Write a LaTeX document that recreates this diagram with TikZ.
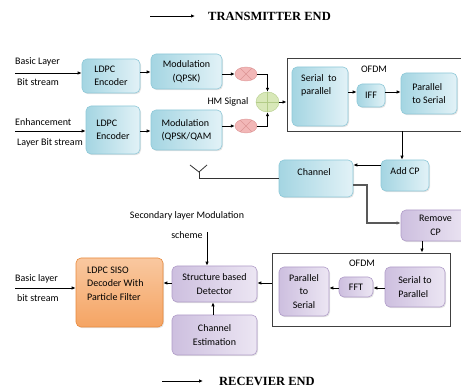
\documentclass[tikz,border=0pt]{standalone}
\usepackage{fontspec}
\setmainfont{Carlito}
\newfontfamily\titlefont{Liberation Serif}
\usetikzlibrary{arrows.meta,shapes.geometric,shadows}
\definecolor{blueL}{HTML}{A4D5E2}
\definecolor{blueR}{HTML}{E2F2F7}
\definecolor{blueD}{HTML}{8EC8D8}
\definecolor{purL}{HTML}{CDBFDF}
\definecolor{purR}{HTML}{ECE6F3}
\definecolor{purD}{HTML}{B09CC8}
\definecolor{orT}{HTML}{F9C8A0}
\definecolor{orM}{HTML}{F29447}
\definecolor{orB}{HTML}{F5A463}
\definecolor{orD}{HTML}{E8893B}
\definecolor{mulF}{HTML}{F2B7B7}
\definecolor{mulD}{HTML}{DD9595}
\definecolor{sumF}{HTML}{D8E8B8}
\definecolor{sumD}{HTML}{B3CC88}
\begin{document}
\begin{tikzpicture}[x=1pt,y=-1pt,
  every node/.style={font=\fontsize{10}{13.5}\selectfont, inner sep=0pt},
  box/.style={rounded corners=5pt, line width=0.6pt, drop shadow={shadow xshift=1pt,shadow yshift=-1.2pt,opacity=0.22}},
  bluebox/.style={box, draw=blueD, left color=blueL, right color=blueR},
  purbox/.style={box, draw=purD, left color=purL, right color=purR},
  orbox/.style={box, draw=orD, top color=orT, middle color=orM, bottom color=orB},
  frame/.style={draw=black!75, line width=0.9pt},
  mulnode/.style={ellipse, draw=mulD, fill=mulF, minimum width=22pt, minimum height=14pt},
  sumnode/.style={ellipse, draw=sumD, fill=sumF, minimum width=23pt, minimum height=20pt},
  arr/.style={-{Latex[length=4pt,width=3.5pt]}, line width=0.8pt},
  ttl/.style={font=\titlefont\bfseries\fontsize{12.5}{14}\selectfont, anchor=west},
  lbl/.style={anchor=west, align=left},
]
\useasboundingbox (0,0) rectangle (461,387);

% titles
\coordinate (t1a) at (150,16); \coordinate (t1b) at (195,16);
\draw[arr] (t1a) -- (t1b);
\node[ttl] (ttx) at (208,16) {TRANSMITTER END};
\coordinate (t2a) at (162,381); \coordinate (t2b) at (203,381);
\draw[arr] (t2a) -- (t2b);
\node[ttl] (trx) at (219,381) {RECEVIER END};

% transmitter, row 1
\node[lbl] (bl1) at (15,62) {Basic Layer};
\node[lbl] (bl2) at (17,82) {Bit stream};
\node[bluebox, minimum width=58pt, minimum height=34pt, align=left] (enc1) at (111,76) {LDPC\\Encoder};
\node[bluebox, minimum width=71pt, minimum height=35pt, align=center] (mod1) at (186.5,71.5) {Modulation\\(QPSK)};
\node[mulnode] (mul1) at (246,74) {};
\draw[mulD, line width=0.6pt] (mul1.45) -- (mul1.225) (mul1.135) -- (mul1.315);

% transmitter, row 2
\node[lbl] (el1) at (15,122) {Enhancement};
\node[lbl] (el2) at (17,143) {Layer Bit stream};
\node[bluebox, minimum width=54pt, minimum height=48pt, align=left] (enc2) at (113,130) {LDPC\\Encoder};
\node[bluebox, minimum width=71pt, minimum height=40pt, align=left] (mod2) at (186.5,130) {Modulation\\(QPSK/QAM};
\node[mulnode] (mul2) at (246,126) {};
\draw[mulD, line width=0.6pt] (mul2.45) -- (mul2.225) (mul2.135) -- (mul2.315);

% sum
\node[sumnode] (sum) at (267.5,102) {};
\draw[sumD, line width=0.6pt] (sum.north) -- (sum.south) (sum.west) -- (sum.east);
\node (hm) at (228,102) {HM Signal};

% TX OFDM
\node[frame, minimum width=183pt, minimum height=73pt] (ofdm1) at (378.5,94.5) {};
\node (ofdm1t) at (374,69) {OFDM};
\node[bluebox, minimum width=56pt, minimum height=59pt] (s2p1) at (320,96.5) {};
\node[lbl] (s2p1t) at (301,85.5) {Serial\ \ to\\parallel};
\node[bluebox, minimum width=28pt, minimum height=23pt] (iff) at (371,95.5) {IFF};
\node[bluebox, minimum width=56pt, minimum height=41pt, align=left] (p2s1) at (429,93.5) {Parallel\\to Serial};

% channel row
\node[bluebox, minimum width=74pt, minimum height=37pt] (chan) at (316,178.5) {};
\node (chant) at (314,172) {Channel};
\node[bluebox, minimum width=48pt, minimum height=31pt] (addcp) at (405,175.5) {};
\node (addcpt) at (405,171) {Add CP};
\coordinate (ant) at (199,172);
\coordinate (antl) at (190,165);
\coordinate (antr) at (207,165);
\coordinate (antb) at (199,178);
\draw[black!80, line width=0.8pt] (antl) -- (ant) -- (antr);
\draw[black!80, line width=0.8pt] (chan.west |- antb) -- (antb) -- (ant);

% receiver
\node[purbox, minimum width=69pt, minimum height=31pt, align=center] (rcp) at (435.5,225.5) {Remove\\CP};
\node[frame, minimum width=178pt, minimum height=73pt] (ofdm2) at (361,289.5) {};
\node (ofdm2t) at (362,263) {OFDM};
\node[purbox, minimum width=60pt, minimum height=40pt, align=left] (s2p2) at (415,287) {Serial to\\Parallel};
\node[purbox, minimum width=34pt, minimum height=20pt] (fft) at (356,287) {FFT};
\node[purbox, minimum width=50pt, minimum height=49pt, align=center] (p2s2) at (304,291.5) {Parallel\\to\\Serial};
\node[purbox, minimum width=85pt, minimum height=36pt, align=center] (det) at (214.5,284) {Structure based\\Detector};
\node[purbox, minimum width=85pt, minimum height=40pt, align=center] (chest) at (214.5,335) {Channel\\Estimation};
\node[orbox, minimum width=87pt, minimum height=69pt] (dec) at (119.5,292.5) {};
\node[lbl] (dect) at (87,283.5) {LDPC SISO\\Decoder With\\Particle Filter};
\node[lbl] (rb1) at (15,279) {Basic layer};
\node[lbl] (rb2) at (17,298) {bit stream};
\node[align=center] (sec) at (187,225) {Secondary layer Modulation\\[7pt]scheme};

% connectors TX
\coordinate (in1) at (15,73);
\coordinate (in2) at (15,131);
\draw[arr] (in1) -- (in1 -| enc1.west);
\draw[arr] (in2) -- (in2 -| enc2.west);
\draw[arr] (enc1.east |- 0,72) -- (mod1.west |- 0,72);
\draw[arr] (enc2.east |- 0,131) -- (mod2.west |- 0,131);
\draw[arr] (mod1.east |- mul1) -- (mul1.west);
\draw[arr] (mod2.east |- mul2) -- (mul2.west);
\draw[arr] (mul1.east) -| (sum.north);
\draw[arr] (mul2.east) -| (sum.south);
\draw[arr] (sum.east) -- (sum.east -| ofdm1.west);
\draw[arr] (s2p1.east |- 0,92) -- (iff.west |- 0,92);
\draw[arr] (iff.east |- 0,92) -- (p2s1.west |- 0,92);
\draw[arr] (ofdm1.south -| 402,0) -- (addcp.north -| 402,0);
\draw[arr] (addcp.west |- 0,165) -- (chan.east |- 0,165);
\draw[-{Latex[length=4pt,width=3.5pt]}, line width=1.2pt, black!65] (chan.east |- 0,185) -- (367,185) |- (rcp.west |- 0,223);

% connectors RX
\draw[arr] (rcp.south -| 422,0) -- (ofdm2.north -| 422,0);
\draw[arr] (s2p2.west |- 0,288) -- (fft.east |- 0,288);
\draw[arr] (fft.west |- 0,288) -- (p2s2.east |- 0,288);
\draw[arr] (ofdm2.west |- 0,283) -- (det.east |- 0,283);
\draw[arr] (det.west |- 0,283) -- (dec.east |- 0,283);
\coordinate (in3) at (15,288);
\draw[arr] (in3) -- (in3 -| dec.west);
\coordinate (secb) at (207,232);
\draw[arr] (secb) -- (secb |- det.north);
\draw[arr] (chest.north -| 213,0) -- (det.south -| 213,0);
\end{tikzpicture}
\end{document}
